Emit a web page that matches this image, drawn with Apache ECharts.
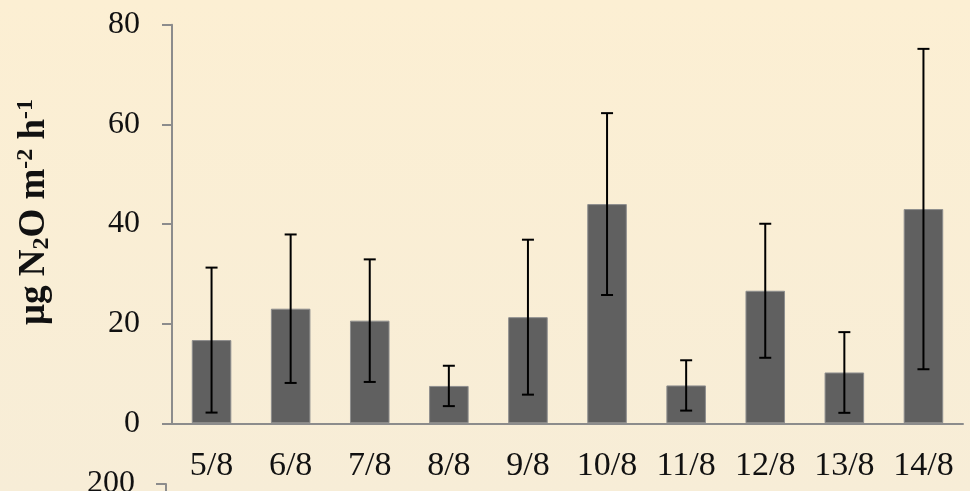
<!DOCTYPE html>
<html>
<head>
<meta charset="utf-8">
<script src="https://cdn.jsdelivr.net/npm/echarts@6/dist/echarts.min.js"></script>
<style>
  html, body { margin: 0; padding: 0; }
  #chart { width: 970px; height: 491px; }
</style>
</head>
<body>
<div id="chart"></div>
<script>
// Daily N2O flux (mean and standard deviation)
var dates = ['5/8', '6/8', '7/8', '8/8', '9/8', '10/8', '11/8', '12/8', '13/8', '14/8'];
var meanFlux = [16.7, 23.0, 20.6, 7.5, 21.3, 44.0, 7.6, 26.6, 10.2, 43.0];
var sdFlux = [14.55, 14.9, 12.3, 4.05, 15.55, 18.25, 5.05, 13.45, 8.1, 32.15];
var yTicks = { min: 0, max: 80, interval: 20 };
var lowerTicks = { min: 0, max: 200, interval: 50 };

var serif = 'Liberation Serif';
var axisGray = '#8c8c8c';

var errorData = dates.map(function (d, i) {
  return [i, meanFlux[i] - sdFlux[i], meanFlux[i] + sdFlux[i]];
});

var chart = echarts.init(document.getElementById('chart'));
chart.setOption({
  animation: false,
  backgroundColor: {
    type: 'linear', x: 0, y: 0, x2: 0, y2: 1,
    colorStops: [
      { offset: 0, color: '#fcefd3' },
      { offset: 1, color: '#f7edd7' }
    ]
  },
  grid: [
    { left: 172, right: 7, top: 24.7, bottom: 67.7, outerBoundsMode: 'none' },
    { left: 166, width: 790, top: 484, height: 300, outerBoundsMode: 'none' }
  ],
  xAxis: [
    {
      type: 'category', gridIndex: 0, data: dates,
      axisLine: { lineStyle: { color: axisGray, width: 2 } },
      axisTick: { show: false },
      axisLabel: { color: '#111', fontFamily: serif, fontSize: 34, margin: 26, interval: 0 }
    },
    {
      type: 'category', gridIndex: 1, data: dates, show: false
    }
  ],
  yAxis: [
    {
      type: 'value', gridIndex: 0,
      min: yTicks.min, max: yTicks.max, interval: yTicks.interval,
      splitLine: { show: false },
      axisLine: { show: true, lineStyle: { color: axisGray, width: 2 } },
      axisTick: { show: true, length: 10, lineStyle: { color: axisGray, width: 2 } },
      axisLabel: { color: '#111', fontFamily: serif, fontSize: 32, margin: 32 },
      name: 'μg N{sub|2}O m{sup|-2} h{sup|-1}',
      nameLocation: 'middle',
      nameRotate: 90,
      nameGap: 118,
      nameTextStyle: {
        color: '#111', fontFamily: serif, fontWeight: 'bold', fontSize: 37,
        lineHeight: 40,
        padding: [0, 0, 0, 24],
        rich: {
          sub: { fontFamily: serif, fontWeight: 'bold', fontSize: 24, verticalAlign: 'bottom', lineHeight: 40, color: '#111' },
          sup: { fontFamily: serif, fontWeight: 'bold', fontSize: 24, verticalAlign: 'top', lineHeight: 40, color: '#111' }
        }
      }
    },
    {
      type: 'value', gridIndex: 1,
      min: lowerTicks.min, max: lowerTicks.max, interval: lowerTicks.interval,
      splitLine: { show: false },
      axisLine: { show: true, lineStyle: { color: axisGray, width: 2 } },
      axisTick: { show: true, length: 10, lineStyle: { color: axisGray, width: 2 } },
      axisLabel: { color: '#111', fontFamily: serif, fontSize: 32, margin: 31, showMaxLabel: true }
    }
  ],
  series: [
    {
      type: 'bar', xAxisIndex: 0, yAxisIndex: 0,
      data: meanFlux,
      barWidth: '50%',
      itemStyle: { color: '#606060', borderColor: '#8e8e8e', borderWidth: 1 }
    },
    {
      type: 'custom', xAxisIndex: 0, yAxisIndex: 0,
      data: errorData,
      z: 10,
      renderItem: function (params, api) {
        var i = api.value(0);
        var lo = api.coord([i, api.value(1)]);
        var hi = api.coord([i, api.value(2)]);
        var cap = 6;
        var style = { stroke: '#000', lineWidth: 2 };
        return {
          type: 'group',
          children: [
            { type: 'line', shape: { x1: hi[0], y1: hi[1], x2: lo[0], y2: lo[1] }, style: style },
            { type: 'line', shape: { x1: hi[0] - cap, y1: hi[1], x2: hi[0] + cap, y2: hi[1] }, style: style },
            { type: 'line', shape: { x1: lo[0] - cap, y1: lo[1], x2: lo[0] + cap, y2: lo[1] }, style: style }
          ]
        };
      }
    }
  ]
});
</script>
</body>
</html>
